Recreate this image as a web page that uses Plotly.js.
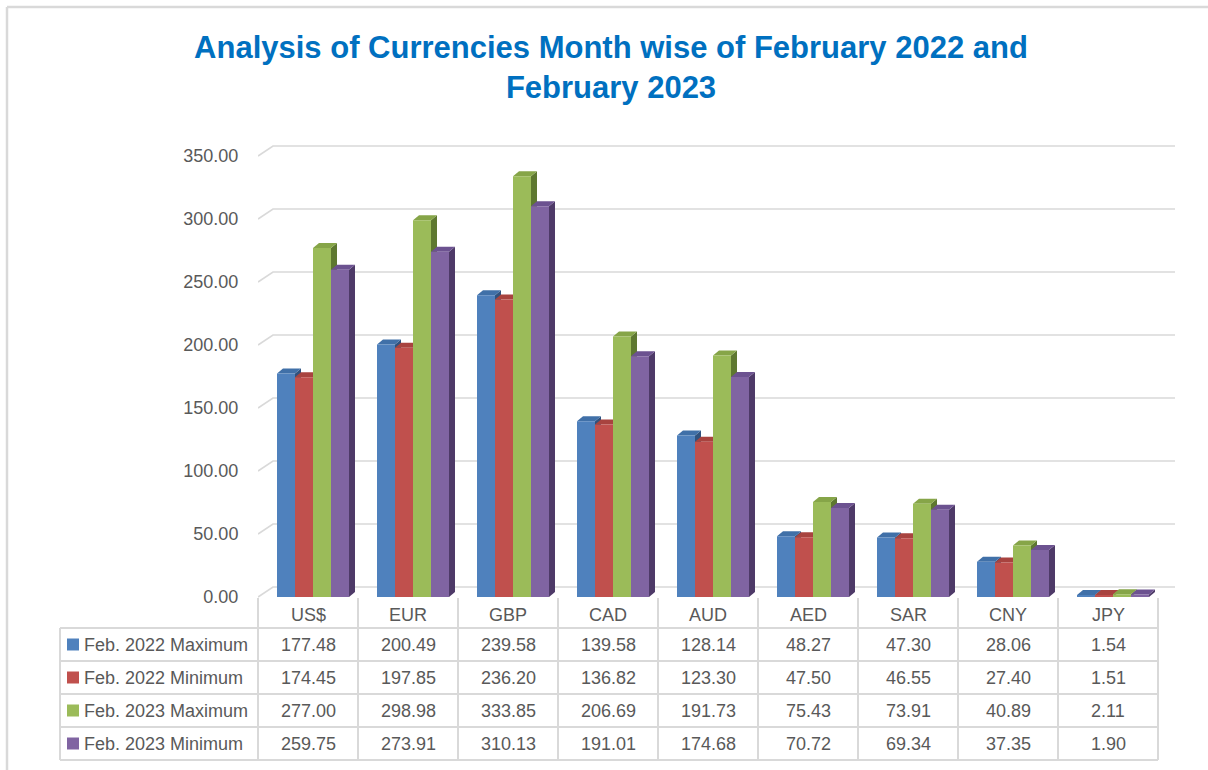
<!DOCTYPE html>
<html>
<head>
<meta charset="utf-8">
<script src="https://cdn.plot.ly/plotly-3.0.1.min.js"></script>
<style>
  html, body { margin: 0; padding: 0; background: #ffffff; }
  #chart { width: 1208px; height: 770px; }
</style>
</head>
<body>
<div id="chart"></div>
<script>
// ---------------- DATA ----------------
const categories = ['US$', 'EUR', 'GBP', 'CAD', 'AUD', 'AED', 'SAR', 'CNY', 'JPY'];
const seriesNames = ['Feb. 2022 Maximum', 'Feb. 2022 Minimum', 'Feb. 2023 Maximum', 'Feb. 2023 Minimum'];
const feb2022Max = [177.48, 200.49, 239.58, 139.58, 128.14, 48.27, 47.30, 28.06, 1.54];
const feb2022Min = [174.45, 197.85, 236.20, 136.82, 123.30, 47.50, 46.55, 27.40, 1.51];
const feb2023Max = [277.00, 298.98, 333.85, 206.69, 191.73, 75.43, 73.91, 40.89, 2.11];
const feb2023Min = [259.75, 273.91, 310.13, 191.01, 174.68, 70.72, 69.34, 37.35, 1.90];
const yTickVals = [0, 50, 100, 150, 200, 250, 300, 350];
const titleText = 'Analysis of Currencies Month wise of February 2022 and<br>February 2023';

// ---------------- STYLE / LAYOUT CONSTANTS ----------------
const seriesValues = [feb2022Max, feb2022Min, feb2023Max, feb2023Min];
const frontColors = ['#4F81BD', '#C0504D', '#9BBB59', '#8064A2'];
const topColors   = ['#4070A8', '#A8433F', '#86A548', '#6C5290'];
const sideColors  = ['#30527E', '#7E302E', '#5E7830', '#4E3A68'];
const gridColor = '#D9D9D9';
const textColor = '#595959';
const FONT = 'Liberation Sans, Arial, sans-serif';

const W = 1208, H = 770;
const px = x => x / W;
const py = y => 1 - y / H;
const S = 1.26;          // pixels per value unit
const Y0 = 597;          // pixel row of value 0 (front)
const X0 = 258;          // pixel column of left edge of first category
const UX = 100;          // pixels per category
const yRange = [-3, 362];
const xRange = [-0.5, 8.67];
const BW = 0.18;
const offsets = [-0.31, -0.13, 0.05, 0.23];
const dx = 6 / UX, dy = 5 / S;           // bar depth
const gdx = 15 / UX, gdy = 10 / S;       // back-wall depth

const xs = categories.map((_, i) => i);

// ---------------- TRACES ----------------
const traces = seriesValues.map((vals, k) => ({
  type: 'bar',
  name: seriesNames[k],
  x: xs,
  y: vals,
  width: BW,
  offset: offsets[k],
  marker: { color: frontColors[k], line: { width: 0 } },
  hovertemplate: '%{y:.2f}<extra>' + seriesNames[k] + '</extra>'
}));

// ---------------- SHAPES ----------------
const shapes = [];
// back-wall gridlines with slanted side-wall segment
yTickVals.forEach(v => {
  shapes.push({
    type: 'path', xref: 'x', yref: 'y', layer: 'below',
    path: `M ${xRange[0]},${v} L ${xRange[0] + gdx},${v + gdy} L ${xRange[1]},${v + gdy}`,
    line: { color: gridColor, width: 1.6 }
  });
});
// 3D faces of bars
seriesValues.forEach((vals, k) => {
  vals.forEach((v, i) => {
    const xl = i + offsets[k], xr = xl + BW;
    shapes.push({
      type: 'path', xref: 'x', yref: 'y', layer: 'below',
      path: `M ${xr},0 L ${xr},${v} L ${xr + dx},${v + dy} L ${xr + dx},${dy} Z`,
      fillcolor: sideColors[k], line: { width: 0 }
    });
    shapes.push({
      type: 'path', xref: 'x', yref: 'y', layer: 'below',
      path: `M ${xl},${v} L ${xr},${v} L ${xr + dx},${v + dy} L ${xl + dx},${v + dy} Z`,
      fillcolor: topColors[k], line: { width: 0 }
    });
  });
});

// data table
const tableLeft = 60, tableRight = X0 + categories.length * UX;
const rowLines = [628, 661, 694, 727, 760];
const headerTop = 598;
const lineStyle = { color: gridColor, width: 2 };
rowLines.forEach(y => {
  shapes.push({ type: 'line', xref: 'paper', yref: 'paper',
    x0: px(tableLeft), x1: px(tableRight), y0: py(y), y1: py(y), line: lineStyle });
});
shapes.push({ type: 'line', xref: 'paper', yref: 'paper',
  x0: px(tableLeft), x1: px(tableLeft), y0: py(rowLines[0]), y1: py(rowLines[rowLines.length - 1]), line: lineStyle });
for (let j = 0; j <= categories.length; j++) {
  const x = X0 + j * UX;
  shapes.push({ type: 'line', xref: 'paper', yref: 'paper',
    x0: px(x), x1: px(x), y0: py(headerTop), y1: py(rowLines[rowLines.length - 1]), line: lineStyle });
}
// legend keys
seriesNames.forEach((_, k) => {
  const cy = (rowLines[k] + rowLines[k + 1]) / 2;
  shapes.push({ type: 'rect', xref: 'paper', yref: 'paper',
    x0: px(67), x1: px(79), y0: py(cy + 6), y1: py(cy - 6),
    fillcolor: frontColors[k], line: { width: 0 } });
});
// outer chart border (top and left)
shapes.push({ type: 'line', xref: 'paper', yref: 'paper', x0: px(7), x1: px(7), y0: py(7), y1: 0,
  line: { color: '#D9D9D9', width: 2.5 } });
shapes.push({ type: 'line', xref: 'paper', yref: 'paper', x0: px(7), x1: 1, y0: py(7), y1: py(7),
  line: { color: '#D9D9D9', width: 2.5 } });

// ---------------- ANNOTATIONS ----------------
const annotations = [];
const tFont = { family: FONT, size: 18, color: textColor };
categories.forEach((c, i) => {
  annotations.push({ xref: 'x', yref: 'paper', x: i, y: py(615), text: c,
    showarrow: false, xanchor: 'center', yanchor: 'middle', font: tFont });
});
seriesValues.forEach((vals, k) => {
  const cy = (rowLines[k] + rowLines[k + 1]) / 2;
  annotations.push({ xref: 'paper', yref: 'paper', x: px(82), y: py(cy), text: seriesNames[k],
    showarrow: false, xanchor: 'left', yanchor: 'middle', font: tFont });
  vals.forEach((v, i) => {
    annotations.push({ xref: 'x', yref: 'paper', x: i, y: py(cy), text: v.toFixed(2),
      showarrow: false, xanchor: 'center', yanchor: 'middle', font: tFont });
  });
});

// ---------------- LAYOUT ----------------
const layout = {
  width: W, height: H,
  margin: { l: 0, r: 0, t: 0, b: 0 },
  paper_bgcolor: '#ffffff',
  plot_bgcolor: 'rgba(0,0,0,0)',
  showlegend: false,
  barmode: 'overlay',
  title: {
    text: titleText,
    x: px(611), xanchor: 'center', xref: 'paper',
    y: 1 - 58 / H, yanchor: 'top',
    font: { family: FONT, size: 31, color: '#0070C0', weight: 'bold' }
  },
  xaxis: {
    domain: [px(X0), px(X0 + (xRange[1] - xRange[0]) * UX)],
    range: xRange, showgrid: false, zeroline: false, showline: false,
    showticklabels: false, ticks: '', fixedrange: true
  },
  yaxis: {
    domain: [py(Y0 - yRange[0] * S), py(Y0 - yRange[1] * S)],
    range: yRange, tickvals: yTickVals, tickformat: '.2f',
    showgrid: false, zeroline: false, showline: false,
    ticks: 'outside', ticklen: 15, tickcolor: 'rgba(0,0,0,0)',
    tickfont: { family: FONT, size: 18, color: textColor }, fixedrange: true
  },
  shapes: shapes,
  annotations: annotations,
  font: { family: FONT }
};

Plotly.newPlot('chart', traces, layout, { displayModeBar: false, staticPlot: true });
</script>
</body>
</html>
